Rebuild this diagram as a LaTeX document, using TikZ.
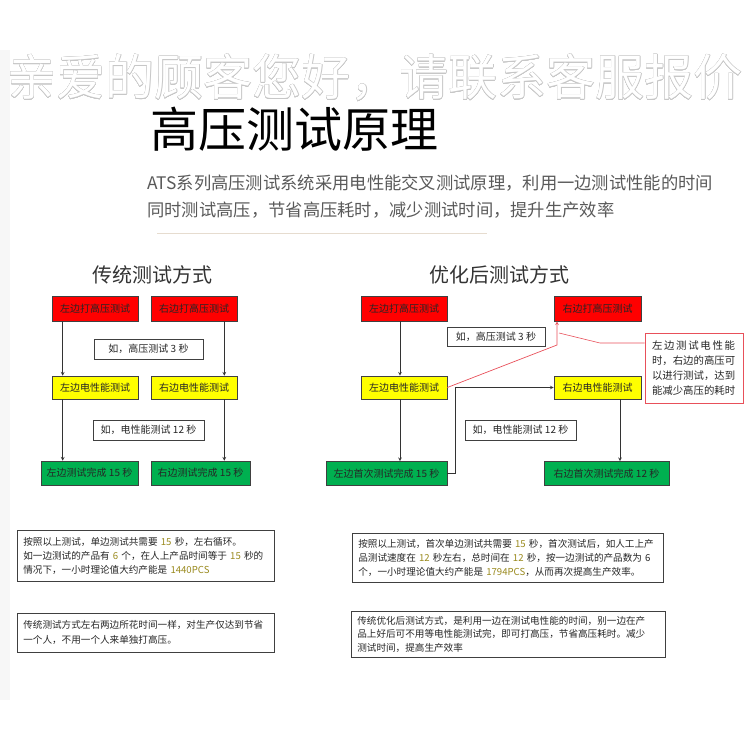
\documentclass[tikz,border=0pt]{standalone}
\usepackage{fontspec}
\setmainfont{Noto Sans CJK SC}
\usepackage{contour}
\usetikzlibrary{positioning}
\tikzset{every picture/.style={line width=0.75pt}}
\definecolor{boxred}{HTML}{FF0000}
\definecolor{boxyel}{HTML}{FFFF00}
\definecolor{boxgrn}{HTML}{00B050}
\definecolor{numcol}{HTML}{9A8A1E}
\definecolor{rulecol}{HTML}{E6DCCF}
\definecolor{callred}{HTML}{E8505A}
\newcommand{\fsz}[2]{\fontsize{#1}{#2}\selectfont}
\newcommand{\nm}[1]{\textcolor{numcol}{#1}}
\contourlength{0.5pt}

\begin{document}
\begin{tikzpicture}[x=1pt, y=-1pt, >=stealth,
    box/.style={draw=black!75, line width=0.6pt, inner sep=0pt, font=\fsz{10}{12}, text=black!85},
    redbox/.style={box, fill=boxred, minimum width=86, minimum height=25},
    yelbox/.style={box, fill=boxyel, minimum width=86, minimum height=23},
    grnbox/.style={box, fill=boxgrn, minimum height=24},
    timebox/.style={box, fill=white, minimum height=20},
    textbox/.style={draw=black!75, line width=0.6pt, fill=white, inner xsep=6, inner ysep=0,
        align=left, font=\fsz{9.6}{14}, text=black!85},
    flow/.style={->, draw=black!80, line width=0.7pt}]
    \useasboundingbox (0,0) rectangle (749,749);
    % faint strip on the left edge
    \fill[black!3] (0,50) rectangle (10,700);
    % watermark and heading
    \node[text=white, font=\fsz{49}{50}] (mark) at (375,78) {\contour{black!22}{亲爱的顾客您好，请联系客服报价}};
    \node[anchor=west, inner sep=0pt, font=\fsz{48}{52}] (title) at (150,129) {高压测试原理};
    \node[anchor=west, inner sep=0pt, text=black!65, font=\fsz{17.3}{20}] (sub1) at (147,183)
        {ATS系列高压测试系统采用电性能交叉测试原理，利用一边测试性能的时间};
    \node[anchor=west, inner sep=0pt, text=black!65, font=\fsz{17.3}{20}] (sub2) at (147,210)
        {同时测试高压，节省高压耗时，减少测试时间，提升生产效率};
    \draw[rulecol, line width=0.6pt] (157,233) -- (487,233);

    % traditional way
    \node[text=black!80, font=\fsz{20}{24}] (ttitle) at (152,275) {传统测试方式};
    \node[redbox] (lred) at (95,308.5) {左边打高压测试};
    \node[redbox] (rred) at (194,308.5) {右边打高压测试};
    \node[timebox, minimum width=109] (thv) at (148.5,349) {如，高压测试 3 秒};
    \node[yelbox] (lyel) at (95,387.5) {左边电性能测试};
    \node[yelbox] (ryel) at (194,387.5) {右边电性能测试};
    \node[timebox, minimum width=111] (tel) at (148.5,430) {如，电性能测试 12 秒};
    \node[grnbox, minimum width=97] (lgrn) at (89.5,473) {左边测试完成 15 秒};
    \node[grnbox, minimum width=99] (rgrn) at (200.5,473) {右边测试完成 15 秒};
    \draw[flow] ([xshift=11]lred.south west) -- ([xshift=11]lyel.north west);
    \draw[flow] ([xshift=11]lyel.south west) -- ([xshift=22]lgrn.north west);
    \draw[flow] ([xshift=-13]rred.south east) -- ([xshift=-13]ryel.north east);
    \draw[flow] ([xshift=-13]ryel.south east) -- ([xshift=-26]rgrn.north east);

    % optimised way
    \node[text=black!80, font=\fsz{20}{24}] (otitle) at (499,275) {优化后测试方式};
    \node[redbox] (ored1) at (404,308.5) {左边打高压测试};
    \node[redbox, minimum width=87] (ored2) at (597.5,308.5) {右边打高压测试};
    \node[timebox, minimum width=98, minimum height=19] (ohv) at (496,336.5) {如，高压测试 3 秒};
    \node[yelbox] (oyel1) at (404,387.5) {左边电性能测试};
    \node[yelbox, minimum width=87] (oyel2) at (597.5,387.5) {右边电性能测试};
    \node[timebox, minimum width=111] (oel) at (520.5,430) {如，电性能测试 12 秒};
    \node[grnbox, minimum width=121] (ogrn1) at (386.5,473.5) {左边首次测试完成 15 秒};
    \node[grnbox, minimum width=125] (ogrn2) at (606.5,473.5) {右边首次测试完成 12 秒};
    \node[draw=callred, line width=0.6pt, fill=white, minimum width=98, minimum height=70,
        inner sep=0pt, text width=84, align=left, font=\fsz{10.4}{15}, text=black!85] (call) at (694,368)
        {\makebox[83pt]{左\hfill 边\hfill 测\hfill 试\hfill 电\hfill 性\hfill 能}\\
         时，右边的高压可\\以进行测试，达到\\能减少高压的耗时};
    \coordinate (lcol) at ([xshift=-4]oyel1.south);
    \coordinate (rcol) at ([xshift=22.5]oyel2.south);
    \coordinate (hvbend) at (557,345);
    \coordinate (ctip) at (559,333);
    \draw[flow] ([xshift=-4]ored1.south) -- ([xshift=-4]oyel1.north);
    \draw[flow] (lcol) -- (lcol |- ogrn1.north);
    \draw[flow] (rcol) -- (rcol |- ogrn2.north);
    \draw[flow] (ogrn1.east) -- ++(8,0) |- (oyel2.west);
    \draw[->, callred, line width=0.7pt] (oyel1.east) -- (hvbend) -- (hvbend |- ored2.south);
    \draw[callred, line width=0.6pt] ([yshift=25]call.west) -- (600,343) -- (ctip);

    % notes
    \node[textbox, anchor=north west, minimum width=257, minimum height=51, text width=245] (note1) at (17,530)
        {按照以上测试，单边测试共需要 \nm{15} 秒，左右循环。\\
         如一边测试的产品有 \nm{6} 个，在人上产品时间等于 \nm{15} 秒的\\
         情况下，一小时理论值大约产能是 \nm{1440PCS}};
    \node[textbox, anchor=north west, minimum width=311, minimum height=49, text width=299] (note2) at (352,533)
        {按照以上测试，首次单边测试共需要 \nm{15} 秒，首次测试后，如人工上产\\
         品测试速度在 \nm{12} 秒左右，总时间在 \nm{12} 秒，按一边测试的产品数为 6\\
         个，一小时理论值大约产能是 \nm{1794PCS}，从而再次提高生产效率。};
    \node[textbox, anchor=north west, minimum width=257, minimum height=39, text width=245,
        font=\fsz{9.6}{15}] (note3) at (17,613)
        {传统测试方式左右两边所花时间一样，对生产仅达到节省\\
         一个人，不用一个人来单独打高压。};
    \node[textbox, anchor=north west, minimum width=314, minimum height=46, text width=302,
        font=\fsz{9.6}{13.5}] (note4) at (351,611)
        {传统优化后测试方式，是利用一边在测试电性能的时间，别一边在产\\
         品上好后可不用等电性能测试完，即可打高压，节省高压耗时。减少\\
         测试时间，提高生产效率};
\end{tikzpicture}
\end{document}
